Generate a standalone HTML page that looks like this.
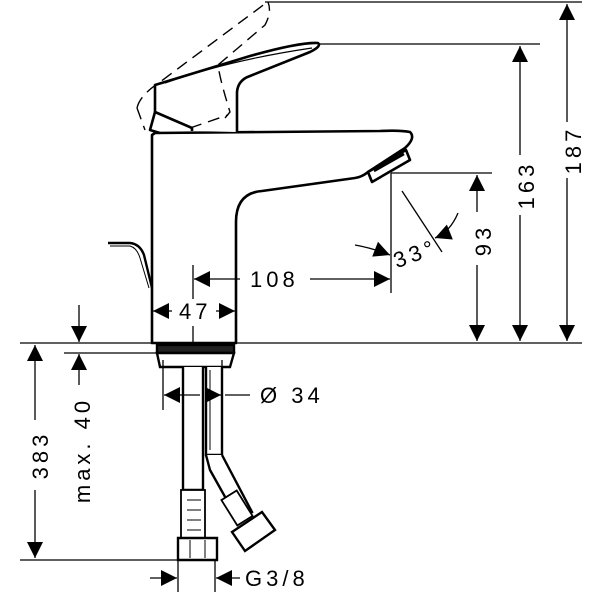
<!DOCTYPE html>
<html><head><meta charset="utf-8"><style>
html,body{margin:0;padding:0;background:#fff;width:600px;height:600px;overflow:hidden}
svg{display:block}
text{font-family:"Liberation Sans",sans-serif;font-size:22px;fill:#000;letter-spacing:4px}
</style></head><body>
<svg width="600" height="600" viewBox="0 0 600 600" xmlns="http://www.w3.org/2000/svg">
<defs>
<marker id="a" viewBox="0 0 10 10" refX="10" refY="5" markerWidth="18" markerHeight="16" markerUnits="userSpaceOnUse" orient="auto"><path d="M0,0L10,5L0,10z" fill="#000"/></marker>
</defs>
<g stroke="#000" stroke-width="2.6" fill="none" stroke-linejoin="round">
<path d="M152,135 L152,343 L236,343 L236,222 Q236,193 262,191 L355,178 Q362,177 368,172 L405,148 Q416,138 410,132 Q400,130 380,131 L155,133 Z" fill="#fff"/>
<path d="M368,172 L406,150 L410,160 L372,182 Z" fill="#fff"/>
<path d="M374,171 L404,154"/>
<path d="M237,132 L237,92 Q238,80 250,76 L310,52 Q322,46 318,43 Q300,42 250,56 L155,85 L155,112 L192,128 L192,131" fill="#fff"/>
<path d="M165,83 Q230,60 312,48" stroke-width="1.2"/>
<path d="M155,112 L150,130 L160,133"/>
<path d="M108,243 L130,243 Q140,244 144,255 L152,288" stroke-width="2.4"/>
<path d="M110,246 L130,246 Q137,248 140,258 L149,288" stroke-width="1"/>
</g>
<g stroke="#000" stroke-width="1.4" fill="none" stroke-dasharray="12,7">
<path d="M137,108 Q140,95 160,82 L266,3"/>
<path d="M137,108 L145,130"/>
<path d="M225,118 L230,112 Q220,80 218,65 L265,25 Q272,12 268,2"/>
<path d="M190,128 L228,115"/>
</g>
<g stroke="#000" stroke-width="2.4" fill="#fff">
<rect x="157" y="345" width="77" height="8" fill="#222"/>
<path d="M157,353 L234,353 L230,367 L160,367 Z"/>
<path d="M183,367 L183,490 L203,490 L203,367"/>
<path d="M206,367 L206,455 L222,455 L222,367"/>
<path d="M206,455 L210,470 L238,520 L252,512 L222,455"/>
<rect x="181" y="490" width="24" height="48" stroke-width="1.8"/>
<path d="M178,538 L217,538 L217,560 L178,560 Z"/>
<path d="M232,532 L262,512 L275,530 L245,551 Z"/>
<rect x="228" y="493" width="18" height="30" transform="rotate(-32 237 508)" stroke-width="1.8"/>
</g>
<g stroke="#000" stroke-width="1" fill="none">
<line x1="187" y1="500" x2="201" y2="500"/><line x1="187" y1="510" x2="201" y2="510"/><line x1="187" y1="520" x2="201" y2="520"/><line x1="187" y1="530" x2="201" y2="530"/>
<line x1="190" y1="540" x2="190" y2="558"/><line x1="205" y1="540" x2="205" y2="558"/>
<line x1="210" y1="370" x2="210" y2="450"/>
</g>
<g stroke="#000" stroke-width="1.3" fill="none">
<line x1="265" y1="2" x2="582" y2="2"/>
<line x1="320" y1="44" x2="540" y2="44"/>
<line x1="391" y1="173" x2="492" y2="173"/>
<line x1="20" y1="343" x2="582" y2="343"/>
<line x1="64" y1="353" x2="160" y2="353"/>
<line x1="20" y1="560" x2="178" y2="560"/>
<line x1="391" y1="173" x2="391" y2="293"/>
<line x1="193" y1="265" x2="193" y2="299"/>
<line x1="193" y1="326" x2="193" y2="343"/>
<line x1="163" y1="360" x2="163" y2="410"/>
<line x1="222" y1="360" x2="222" y2="410"/>
<line x1="178" y1="560" x2="178" y2="592"/>
<line x1="215" y1="560" x2="215" y2="592"/>
<line x1="567" y1="122" x2="567" y2="4" marker-end="url(#a)"/>
<line x1="567" y1="178" x2="567" y2="341" marker-end="url(#a)"/>
<line x1="520" y1="155" x2="520" y2="46" marker-end="url(#a)"/>
<line x1="520" y1="215" x2="520" y2="341" marker-end="url(#a)"/>
<line x1="477" y1="212" x2="477" y2="175" marker-end="url(#a)"/>
<line x1="477" y1="265" x2="477" y2="341" marker-end="url(#a)"/>
<line x1="35" y1="420" x2="35" y2="345" marker-end="url(#a)"/>
<line x1="35" y1="490" x2="35" y2="558" marker-end="url(#a)"/>
<line x1="79" y1="305" x2="79" y2="342" marker-end="url(#a)"/>
<line x1="79" y1="385" x2="79" y2="354" marker-end="url(#a)"/>
<line x1="240" y1="279" x2="194" y2="279" marker-end="url(#a)"/>
<line x1="310" y1="279" x2="390" y2="279" marker-end="url(#a)"/>
<line x1="172" y1="311" x2="153" y2="311" marker-end="url(#a)"/>
<line x1="216" y1="311" x2="235" y2="311" marker-end="url(#a)"/>
<line x1="402" y1="191" x2="442" y2="252"/>
<path d="M355,245 Q372,248 390,255" marker-end="url(#a)"/>
<path d="M458,213 Q450,232 435,238" marker-end="url(#a)"/>
<line x1="200" y1="395" x2="164" y2="395" marker-end="url(#a)"/>
<line x1="205" y1="395" x2="221" y2="395" marker-end="url(#a)"/>
<line x1="225" y1="395" x2="250" y2="395"/>
<line x1="150" y1="578" x2="177" y2="578" marker-end="url(#a)"/>
<line x1="240" y1="578" x2="216" y2="578" marker-end="url(#a)"/>
</g>
<text transform="translate(575,150) rotate(-90)" text-anchor="middle" dominant-baseline="middle">187</text>
<text transform="translate(528,185) rotate(-90)" text-anchor="middle" dominant-baseline="middle">163</text>
<text transform="translate(485,240) rotate(-90)" text-anchor="middle" dominant-baseline="middle">93</text>
<text transform="translate(42,455) rotate(-90)" text-anchor="middle" dominant-baseline="middle">383</text>
<text transform="translate(84,450) rotate(-90)" text-anchor="middle" dominant-baseline="middle">max. 40</text>
<text x="250" y="287">108</text>
<text x="179" y="319">47</text>
<text x="393" y="263" transform="rotate(-20 410 255)">33°</text>
<text x="260" y="403">Ø 34</text>
<text x="245" y="586">G3/8</text>
</svg>
</body></html>
